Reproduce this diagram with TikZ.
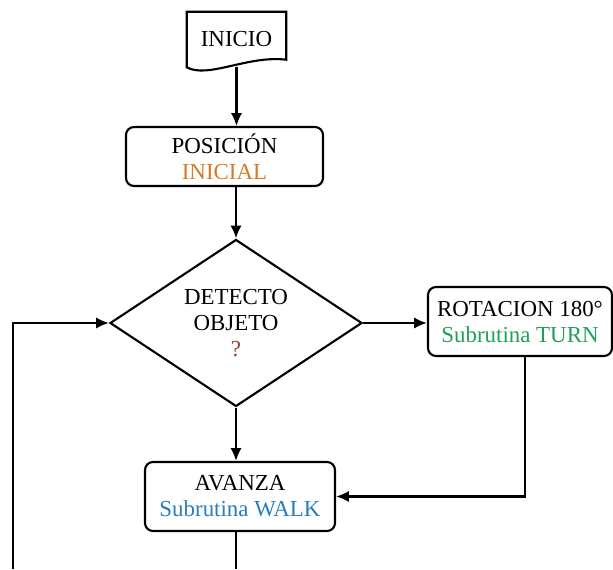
\documentclass[tikz,border=0pt]{standalone}
\usepackage{fontspec}
\setmainfont{Liberation Serif}
\usepackage{xcolor}
\usepackage{tikz}
\usetikzlibrary{positioning,%
  shapes.geometric,%
  arrows,%
  arrows.meta,%
  calc
}

\definecolor{naranja}{RGB}{214,122,38}
\definecolor{verde}{RGB}{34,160,90}
\definecolor{azul}{RGB}{40,125,190}
\definecolor{rojizo}{RGB}{150,60,60}

\begin{document}
\begin{tikzpicture}[
            caja/.style={draw,rounded corners=0.2cm,align=center,line width=1.5pt,inner sep=0pt},
            flecha/.style={->,>={Latex[length=3.2mm,width=2.8mm]},line width=1.5pt},
            font=\fontsize{16.3}{18.5}\selectfont]
            \useasboundingbox (0,0) rectangle (15.325,14.225);

            % bloques
            \node[minimum width=2.475cm,minimum height=1.375cm,inner sep=0pt] (inicio) at (5.9125,13.2375) {INICIO};
            \draw[line width=1.5pt] (inicio.south west) -- (inicio.north west) -- (inicio.north east) -- ++(0,-1.2)
                .. controls (6.2,12.85) and (5.2,12.25) .. (inicio.south west) -- cycle;
            \node[caja,minimum width=4.925cm,minimum height=1.475cm] (posicion) at (5.6125,10.3125)
                {POSICIÓN\\\textcolor{naranja}{INICIAL}};
            \node[draw,diamond,minimum width=6.3cm,minimum height=4.175cm,inner sep=0pt,line width=1.5pt] (detecto) at (5.9,6.15) {};
            \node[align=center] (pregunta) at (detecto) {DETECTO\\OBJETO\\\textcolor{rojizo}{?}};
            \node[caja,minimum width=4.6cm,minimum height=1.725cm] (rotacion) at (13.0,6.1875)
                {ROTACION 180°\\\textcolor{verde}{Subrutina TURN}};
            \node[caja,minimum width=4.75cm,minimum height=1.725cm] (avanza) at (6.0,1.8125)
                {AVANZA\\\textcolor{azul}{Subrutina WALK}};
            \coordinate (salida) at (5.9,0);
            \coordinate (retorno) at (0.325,0);

            % conexiones
            \draw[flecha] (inicio.south) -- (inicio.south |- posicion.north);
            \draw[flecha] (detecto.north |- posicion.south) -- (detecto.north);
            \draw[flecha] (detecto.east) -- (detecto.east -| rotacion.west);
            \draw[flecha] (detecto.south) -- (detecto.south |- avanza.north);
            \draw[flecha] ([xshift=0.125cm]rotacion.south) |- (avanza.east);
            \draw[line width=1.5pt] (detecto.south |- avanza.south) -- (salida);
            \draw[flecha] (retorno) |- (detecto.west);
        \end{tikzpicture}
\end{document}
